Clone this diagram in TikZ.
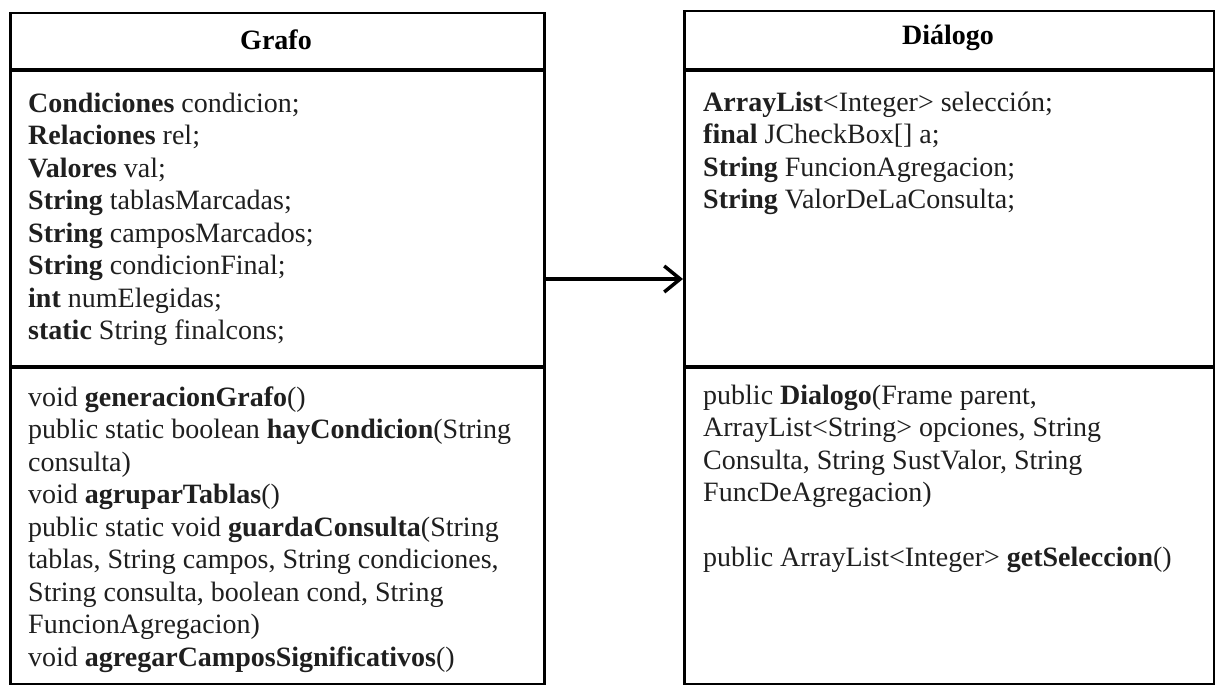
\documentclass[tikz,border=0pt]{standalone}
\usepackage{fontspec}
\setmainfont{Liberation Serif}
\usetikzlibrary{arrows.meta}
\tikzset{
  classbox/.style={draw=black, line width=2.5pt, inner sep=0pt},
  divider/.style={draw=black, line width=3.5pt},
  txt/.style={anchor=north west, align=left, inner sep=0pt, text=black!88,
    font=\fontsize{28}{32.5}\selectfont},
  head/.style={anchor=center, inner sep=0pt, font=\fontsize{28}{32.5}\selectfont\bfseries},
  assoc/.style={line width=3.5pt, -{Straight Barb[length=16pt,width=26pt,line width=3.5pt]}}
}
\begin{document}
\begin{tikzpicture}[x=1pt,y=-1pt]
\useasboundingbox (0,0) rectangle (1215,685);
% boxes
\node[classbox, minimum width=534pt, minimum height=671pt, anchor=north west] (grafo) at (9,12) {};
\node[classbox, minimum width=530pt, minimum height=673pt, anchor=north west] (dialogo) at (683,10) {};
% dividers
\draw[divider] (9,70) -- (543,70);
\draw[divider] (9,367) -- (543,367);
\draw[divider] (683,70) -- (1213,70);
\draw[divider] (683,367) -- (1213,367);
% headers
\node[head] (gname) at (276,40) {Grafo};
\node[head] (dname) at (948,38) {Diálogo};
% Grafo attributes (first baseline 112)
\node[txt] (gattr) at (28,89.25) {\strut\textbf{Condiciones} condicion;\\
\textbf{Relaciones} rel;\\
\textbf{Valores} val;\\
\textbf{String} tablasMarcadas;\\
\textbf{String} camposMarcados;\\
\textbf{String} condicionFinal;\\
\textbf{int} numElegidas;\\
\textbf{static} String finalcons;};
% Grafo methods (first baseline 406)
\node[txt] (gmeth) at (28,383.25) {\strut void \textbf{generacionGrafo}()\\
public static boolean \textbf{hayCondicion}(String\\
consulta)\\
void \textbf{agruparTablas}()\\
public static void \textbf{guardaConsulta}(String\\
tablas, String campos, String condiciones,\\
String consulta, boolean cond, String\\
FuncionAgregacion)\\
void \textbf{agregarCamposSignificativos}()};
% Dialogo attributes (first baseline 111)
\node[txt] (dattr) at (703,88.25) {\strut\textbf{ArrayList}<Integer> selección;\\
\textbf{final} JCheckBox[] a;\\
\textbf{String} FuncionAgregacion;\\
\textbf{String} ValorDeLaConsulta;};
% Dialogo methods (first baseline 404)
\node[txt] (dmeth) at (703,381.25) {\strut public \textbf{Dialogo}(Frame parent,\\
ArrayList<String> opciones, String\\
Consulta, String SustValor, String\\
FuncDeAgregacion)\\[32.5pt]
public ArrayList<Integer> \textbf{getSeleccion}()};
% association
\coordinate (aStart) at (grafo.east |- 0,279);
\coordinate (aEnd) at (dialogo.west |- 0,279);
\draw[assoc] (aStart) -- (aEnd);
\end{tikzpicture}
\end{document}
